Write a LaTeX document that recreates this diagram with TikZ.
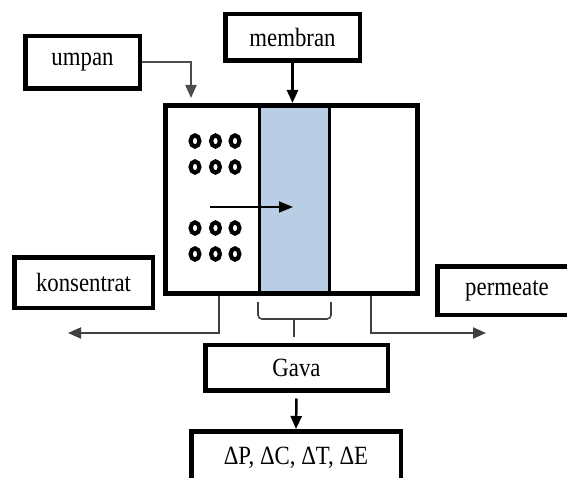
\documentclass[tikz,border=0pt]{standalone}
\usepackage{fontspec}
\usepackage{graphicx}
\setmainfont{Liberation Serif}
\usetikzlibrary{arrows.meta,calc}
\definecolor{memblue}{RGB}{185,205,229}
\newcommand{\tallt}[1]{\scalebox{0.97}[1.12]{#1}}
\begin{document}
\begin{tikzpicture}[x=1pt,y=-1pt,
  box/.style={draw,line width=4.5pt,fill=white,inner sep=0pt,font=\fontsize{23.5}{26}\selectfont},
  conn/.style={line width=2pt,draw=black!85},
  tip/.style={-{Triangle[length=13pt,width=11pt]}},
  bead/.style={line width=4.2pt},
  bracestyle/.style={line width=1.6pt,draw=black!75,rounded corners=4pt},
]
\useasboundingbox (0,0) rectangle (567,478);
\clip (0,0) rectangle (567,478);

% boxes
\node[box,minimum width=114.5pt,minimum height=52.5pt] (umpan) at (82.5,62.5) {\tallt{umpan}};
\node[box,minimum width=134.5pt,minimum height=46.5pt] (membran) at (292.5,37.5) {\tallt{membran}};
\node[box,minimum width=138.5pt,minimum height=50.5pt] (konsentrat) at (83.5,282.5) {\tallt{konsentrat}\hspace{24pt}};
\node[box,minimum width=139.5pt,minimum height=48.5pt] (permeate) at (507,290.5) {\tallt{permeate}};
\node[box,minimum width=182.5pt,minimum height=45.5pt] (gava) at (296.5,367.5) {\tallt{Gava}};
\node[box,minimum width=209.5pt,minimum height=53.5pt] (delta) at (296,458) {\tallt{ΔP, ΔC, ΔT, ΔE}};

% vessel
\fill[white] (165.5,105.5) rectangle (417.5,293.5);
\node[draw,line width=3pt,fill=memblue,minimum width=70pt,minimum height=188pt,inner sep=0pt] (mem) at (294,199.5) {};
\node[draw,line width=5pt,minimum width=252pt,minimum height=188pt,inner sep=0pt] (tank) at (291.5,199.5) {};

% beads
\foreach \bx in {195,215.5,235}
  \foreach \by in {141,167,228,254}
    \draw[bead] (\bx,\by) ellipse[x radius=4.4pt,y radius=5.6pt];

% flow arrow inside
\coordinate (fa) at (210,207);
\coordinate (fb) at (293,207);
\draw[line width=1.6pt,-{Triangle[length=14pt,width=11pt]}] (fa) -- (fb);

% connectors
\coordinate (feedin) at (191,98);
\draw[conn,draw=black!70,tip] (umpan.east) -| (feedin);
\draw[line width=2.5pt,tip] (membran.south) -- (membran.south |- tank.north);

\coordinate (kend) at (68,333);
\coordinate (pend) at (486,333);
\draw[conn,draw=black!75,tip] ([xshift=-72.5pt]tank.south) |- (kend);
\draw[conn,draw=black!75,tip] ([xshift=79.5pt]tank.south) |- (pend);

% brace
\draw[bracestyle] (258,302) -- (258,319) -- (331,319) -- (331,302);
\draw[line width=1.8pt,draw=black!75] (294,319) -- (294,337);

\draw[line width=2.5pt,tip] ([yshift=-6pt]gava.south) -- (delta.north);
\end{tikzpicture}
\end{document}
